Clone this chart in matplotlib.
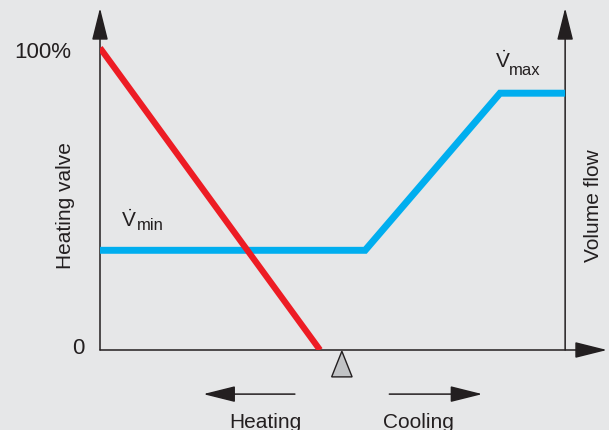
import matplotlib
matplotlib.use("Agg")
import matplotlib.pyplot as plt
from matplotlib.patches import Polygon

plt.rcParams['font.family'] = ['Liberation Sans', 'DejaVu Sans']
plt.rcParams['mathtext.fontset'] = 'custom'
plt.rcParams['mathtext.rm'] = 'Liberation Sans'

# valve opening (%) against control signal
valve_x = [0, 4.73]
valve_y = [100, 0]

# volume flow (%) against control signal
flow_x = [0, 5.7, 8.6, 10]
flow_y = [33, 33, 85, 85]

setpoint_x = 5.2
ytick_labels = ['0', '100%']
ytick_vals = [0, 100]

bg = '#e6e7e8'
red = '#ed1c24'
blue = '#00aeef'

fig = plt.figure(figsize=(6.09, 4.3), dpi=100, facecolor=bg)
ax = fig.add_axes([100 / 609, 80 / 430, 507 / 609, 342 / 430])
ax.set_facecolor(bg)
ax.set_xlim(0, 10.9)
ax.set_ylim(0, 113.2)
ax.axis('off')

arrow_kw = dict(arrowstyle='-|>,head_length=2.0,head_width=0.5', mutation_scale=10,
                color='#231f20', lw=1.1, shrinkA=0, shrinkB=0)

# axes with arrow heads
ax.annotate('', xy=(0, 113.2), xytext=(0, 0), arrowprops=arrow_kw, annotation_clip=False)
ax.annotate('', xy=(10, 113.2), xytext=(10, 0), arrowprops=arrow_kw, annotation_clip=False)
ax.annotate('', xy=(10.9, 0), xytext=(0, 0), arrowprops=arrow_kw, annotation_clip=False)

ax.plot(flow_x, flow_y, color=blue, lw=5, solid_capstyle='butt', solid_joinstyle='miter', zorder=3)
ax.plot(valve_x, valve_y, color=red, lw=4.5, solid_capstyle='butt', zorder=4)

# setpoint marker
tri = Polygon([(setpoint_x, -0.4), (setpoint_x - 0.22, -8.9), (setpoint_x + 0.22, -8.9)],
              closed=True, facecolor='#c1c3c5', edgecolor='#231f20', lw=1.0, clip_on=False)
ax.add_patch(tri)

# heating / cooling direction arrows
ax.annotate('', xy=(2.22, -14.6), xytext=(4.19, -14.6), arrowprops=arrow_kw, annotation_clip=False)
ax.annotate('', xy=(8.22, -14.6), xytext=(6.22, -14.6), arrowprops=arrow_kw, annotation_clip=False)

fs = 15
txt = '#231f20'
for v, lab in zip(ytick_vals, ytick_labels):
    ax.text(-0.34 if v == 0 else -0.62, v + (0.6 if v == 0 else -1.5), lab,
            ha='right', va='center', fontsize=16, color=txt)

ax.text(-0.75, 47.7, 'Heating valve', rotation=90, ha='center', va='center', fontsize=fs, color=txt)
ax.text(10.62, 47.7, 'Volume flow', rotation=90, ha='center', va='center', fontsize=fs, color=txt)
ax.text(3.55, -21, 'Heating', ha='center', va='top', fontsize=fs, color=txt)
ax.text(6.84, -21, 'Cooling', ha='center', va='top', fontsize=fs, color=txt)

ax.text(0.45, 40.7, r'$\dot{\mathrm{V}}$', ha='left', va='baseline', fontsize=15, color=txt)
ax.text(0.80, 39.7, 'min', ha='left', va='baseline', fontsize=12, color=txt)
ax.text(8.49, 93.4, r'$\dot{\mathrm{V}}$', ha='left', va='baseline', fontsize=15, color=txt)
ax.text(8.80, 91.1, 'max', ha='left', va='baseline', fontsize=12, color=txt)

fig.savefig('out.png', dpi=100, facecolor=bg)
